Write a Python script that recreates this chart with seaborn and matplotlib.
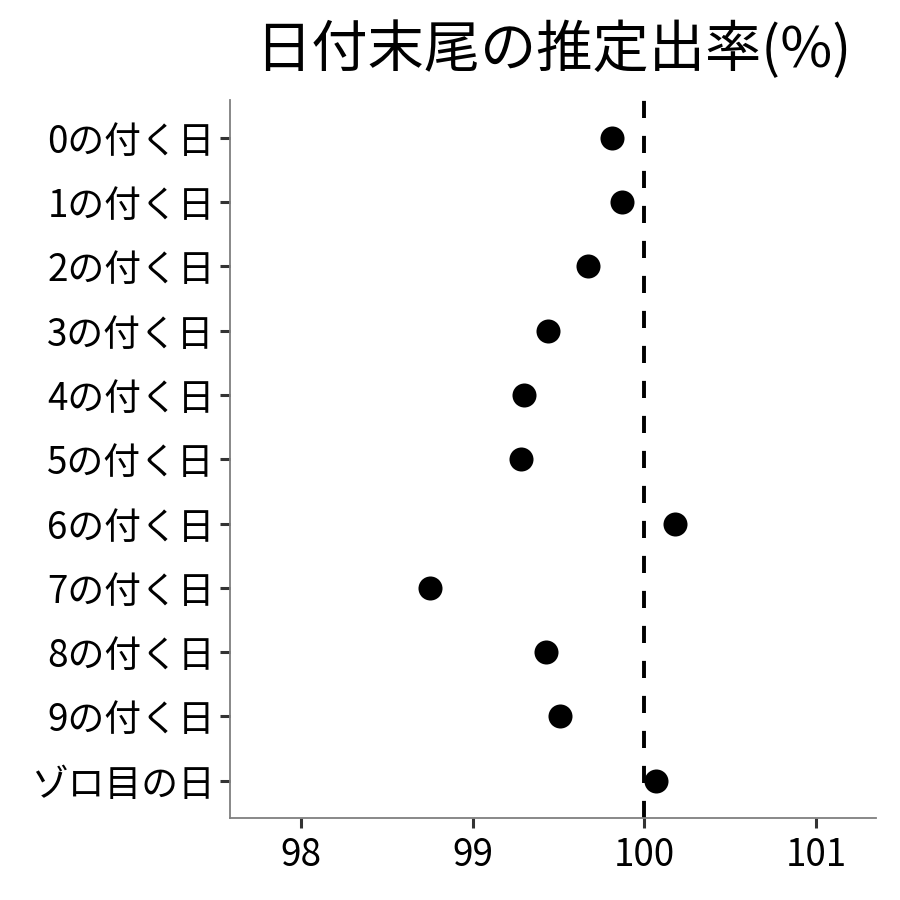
import pandas as pd
import seaborn as sns
import matplotlib.pyplot as plt

# data
categories = ["0の付く日", "1の付く日", "2の付く日", "3の付く日", "4の付く日", "5の付く日",
              "6の付く日", "7の付く日", "8の付く日", "9の付く日", "ゾロ目の日"]
rates = [99.81, 99.87, 99.67, 99.44, 99.30, 99.28, 100.18, 98.75, 99.43, 99.51, 100.07]
xticks = [98, 99, 100, 101]

df = pd.DataFrame({"day": categories, "rate": rates})

sns.set_style("white")
plt.rcParams['font.family'] = ['Noto Sans CJK JP', 'DejaVu Sans']

fig = plt.figure(figsize=(9, 9), dpi=100)
ax = fig.add_axes([230 / 900, 1 - 818 / 900, 646 / 900, 718 / 900])

ax.axvline(100, color="black", linestyle=(0, (4.4, 4.6)), linewidth=2.8, zorder=1)
sns.stripplot(data=df, x="rate", y="day", order=categories, jitter=False,
              color="black", size=17.3, linewidth=0, ax=ax, zorder=3)

ax.set_xlim(97.587, 101.35)
ax.set_ylim(10.58, -0.59)
ax.set_xticks(xticks)
ax.set_xticklabels([str(t) for t in xticks])
ax.set_xlabel("")
ax.set_ylabel("")
ax.set_title("日付末尾の推定出率(%)", fontsize=40.5, pad=24, color="black")

for side in ["top", "right"]:
    ax.spines[side].set_visible(False)
for side in ["left", "bottom"]:
    ax.spines[side].set_color("#7f7f7f")
    ax.spines[side].set_linewidth(1.3)
ax.tick_params(axis="both", which="major", length=7, width=2.2, color="#333333",
               labelsize=26.5, labelcolor="black", bottom=True, left=True, pad=4)
ax.tick_params(axis="x", pad=6)

fig.savefig("out.png", dpi=100)
